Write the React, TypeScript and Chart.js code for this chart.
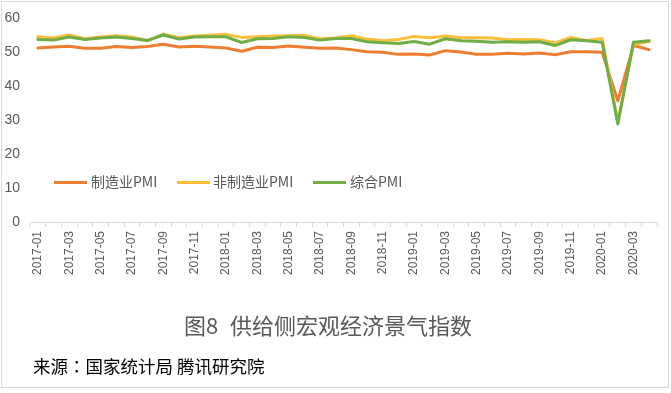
import React, { useEffect, useRef } from "react";
import { Chart, registerables } from "chart.js";

Chart.register(...registerables);

const categories = [
  "2017-01", "2017-02", "2017-03", "2017-04", "2017-05", "2017-06", "2017-07", "2017-08", "2017-09", "2017-10", "2017-11", "2017-12",
  "2018-01", "2018-02", "2018-03", "2018-04", "2018-05", "2018-06", "2018-07", "2018-08", "2018-09", "2018-10", "2018-11", "2018-12",
  "2019-01", "2019-02", "2019-03", "2019-04", "2019-05", "2019-06", "2019-07", "2019-08", "2019-09", "2019-10", "2019-11", "2019-12",
  "2020-01", "2020-02", "2020-03", "2020-04",
];

const manufacturingPMI = [
  51.3, 51.6, 51.8, 51.2, 51.2, 51.7, 51.4, 51.7, 52.4, 51.6, 51.8, 51.6,
  51.3, 50.3, 51.5, 51.4, 51.9, 51.5, 51.2, 51.3, 50.8, 50.2, 50.0, 49.4,
  49.5, 49.2, 50.5, 50.1, 49.4, 49.4, 49.7, 49.5, 49.8, 49.3, 50.2, 50.2,
  50.0, 35.7, 52.0, 50.8,
];

const nonManufacturingPMI = [
  54.6, 54.2, 55.1, 54.0, 54.5, 54.9, 54.5, 53.4, 55.4, 54.3, 54.8, 55.0,
  55.3, 54.4, 54.6, 54.8, 54.9, 55.0, 54.0, 54.2, 54.9, 53.9, 53.4, 53.8,
  54.7, 54.3, 54.8, 54.3, 54.3, 54.2, 53.7, 53.8, 53.7, 52.8, 54.4, 53.5,
  54.1, 29.6, 52.3, 53.2,
];

const compositePMI = [
  53.8, 53.6, 54.5, 53.8, 54.2, 54.5, 54.1, 53.5, 55.1, 53.9, 54.5, 54.6,
  54.6, 52.9, 54.0, 54.1, 54.6, 54.4, 53.6, 54.1, 54.1, 53.1, 52.8, 52.6,
  53.2, 52.4, 54.0, 53.4, 53.3, 53.0, 53.1, 53.0, 53.1, 52.0, 53.7, 53.4,
  53.0, 28.9, 53.0, 53.4,
];

const seriesNames = ["制造业PMI", "非制造业PMI", "综合PMI"];
const seriesColors = ["#ED7D31", "#FBBF3A", "#70AD47"];
const yTicks = [0, 10, 20, 30, 40, 50, 60];

const titleLead = "图8";
const titleRest = "供给侧宏观经济景气指数";
const sourceLead = "来源";
const sourceColon = "：";
const sourceRest = "国家统计局 腾讯研究院";

const CJK = '"Noto Sans CJK SC", "Noto Sans", sans-serif';
const CJK_TC = '"Noto Sans CJK TC", "Noto Sans CJK SC", sans-serif';
const LATIN = '"Liberation Sans", Arial, sans-serif';

export default function App() {
  const canvasRef = useRef<HTMLCanvasElement | null>(null);

  useEffect(() => {
    const canvas = canvasRef.current;
    if (!canvas) return;
    const seriesData = [manufacturingPMI, nonManufacturingPMI, compositePMI];
    const chart = new Chart(canvas, {
      type: "line",
      data: {
        labels: categories,
        datasets: seriesData.map((d, i) => ({
          label: seriesNames[i],
          data: d,
          borderColor: seriesColors[i],
          backgroundColor: seriesColors[i],
          borderWidth: 3,
          pointRadius: 0,
          pointHoverRadius: 0,
          tension: 0,
          fill: false,
          borderJoinStyle: "round" as const,
          borderCapStyle: "round" as const,
          order: 2 - i,
        })),
      },
      options: {
        responsive: false,
        animation: false,
        devicePixelRatio: 1,
        layout: { padding: { left: 0, right: 14, top: 18, bottom: 0 } },
        plugins: {
          legend: { display: false },
          tooltip: { enabled: false },
          title: { display: false },
        },
        scales: {
          x: {
            type: "category",
            offset: true,
            grid: {
              offset: true,
              drawOnChartArea: false,
              drawTicks: true,
              tickLength: 5,
              color: "#d9d9d9",
            },
            border: { display: true, color: "#d9d9d9" },
            ticks: {
              autoSkip: false,
              minRotation: 90,
              maxRotation: 90,
              padding: 4,
              color: "#595959",
              font: { family: LATIN, size: 12 },
              callback: (_v: any, i: number) => (i % 2 === 0 ? categories[i] : ""),
            },
            afterFit: (s: any) => {
              s.height = 171;
            },
          },
          y: {
            min: yTicks[0],
            max: yTicks[yTicks.length - 1],
            grid: { display: false, drawTicks: false },
            border: { display: false },
            afterBuildTicks: (s: any) => {
              s.ticks = yTicks.map((v) => ({ value: v }));
            },
            ticks: {
              padding: 10,
              color: "#595959",
              font: { family: LATIN, size: 14 },
            },
            afterFit: (s: any) => {
              s.width = 30;
            },
          },
        },
      },
    });
    return () => chart.destroy();
  }, []);

  const legendItems = [
    { line: 54, text: 91 },
    { line: 177, text: 213 },
    { line: 313, text: 350 },
  ];

  return (
    <div
      style={{
        position: "fixed",
        left: 0,
        top: 0,
        width: 671,
        height: 393,
        background: "#ffffff",
        overflow: "hidden",
      }}
    >
      <div
        style={{
          position: "absolute",
          left: 1,
          top: 1,
          width: 666,
          height: 385,
          border: "1px solid #d9d9d9",
        }}
      />
      <canvas
        ref={canvasRef}
        width={671}
        height={393}
        style={{ position: "absolute", left: 0, top: 0, width: 671, height: 393 }}
      />
      {legendItems.map((it, i) => (
        <React.Fragment key={i}>
          <div
            style={{
              position: "absolute",
              left: it.line,
              top: 180.5,
              width: 33,
              height: 3,
              background: seriesColors[i],
            }}
          />
          <div
            style={{
              position: "absolute",
              left: it.text,
              top: 171,
              height: 20,
              lineHeight: "20px",
              fontFamily: CJK,
              fontSize: 14,
              color: "#595959",
              whiteSpace: "nowrap",
            }}
          >
            {seriesNames[i]}
          </div>
        </React.Fragment>
      ))}
      <div
        style={{
          position: "absolute",
          left: 184,
          top: 309,
          height: 30,
          lineHeight: "30px",
          fontFamily: CJK,
          fontSize: 22,
          color: "#595959",
          whiteSpace: "nowrap",
        }}
      >
        {titleLead}
      </div>
      <div
        style={{
          position: "absolute",
          left: 230,
          top: 309,
          height: 30,
          lineHeight: "30px",
          fontFamily: CJK,
          fontSize: 22,
          color: "#595959",
          whiteSpace: "nowrap",
        }}
      >
        {titleRest}
      </div>
      <div
        style={{
          position: "absolute",
          left: 33,
          top: 354,
          height: 24,
          lineHeight: "24px",
          fontFamily: CJK,
          fontSize: 17.5,
          color: "#000000",
          whiteSpace: "nowrap",
        }}
      >
        {sourceLead}
        <span style={{ fontFamily: CJK_TC }}>{sourceColon}</span>
        {sourceRest}
      </div>
    </div>
  );
}
